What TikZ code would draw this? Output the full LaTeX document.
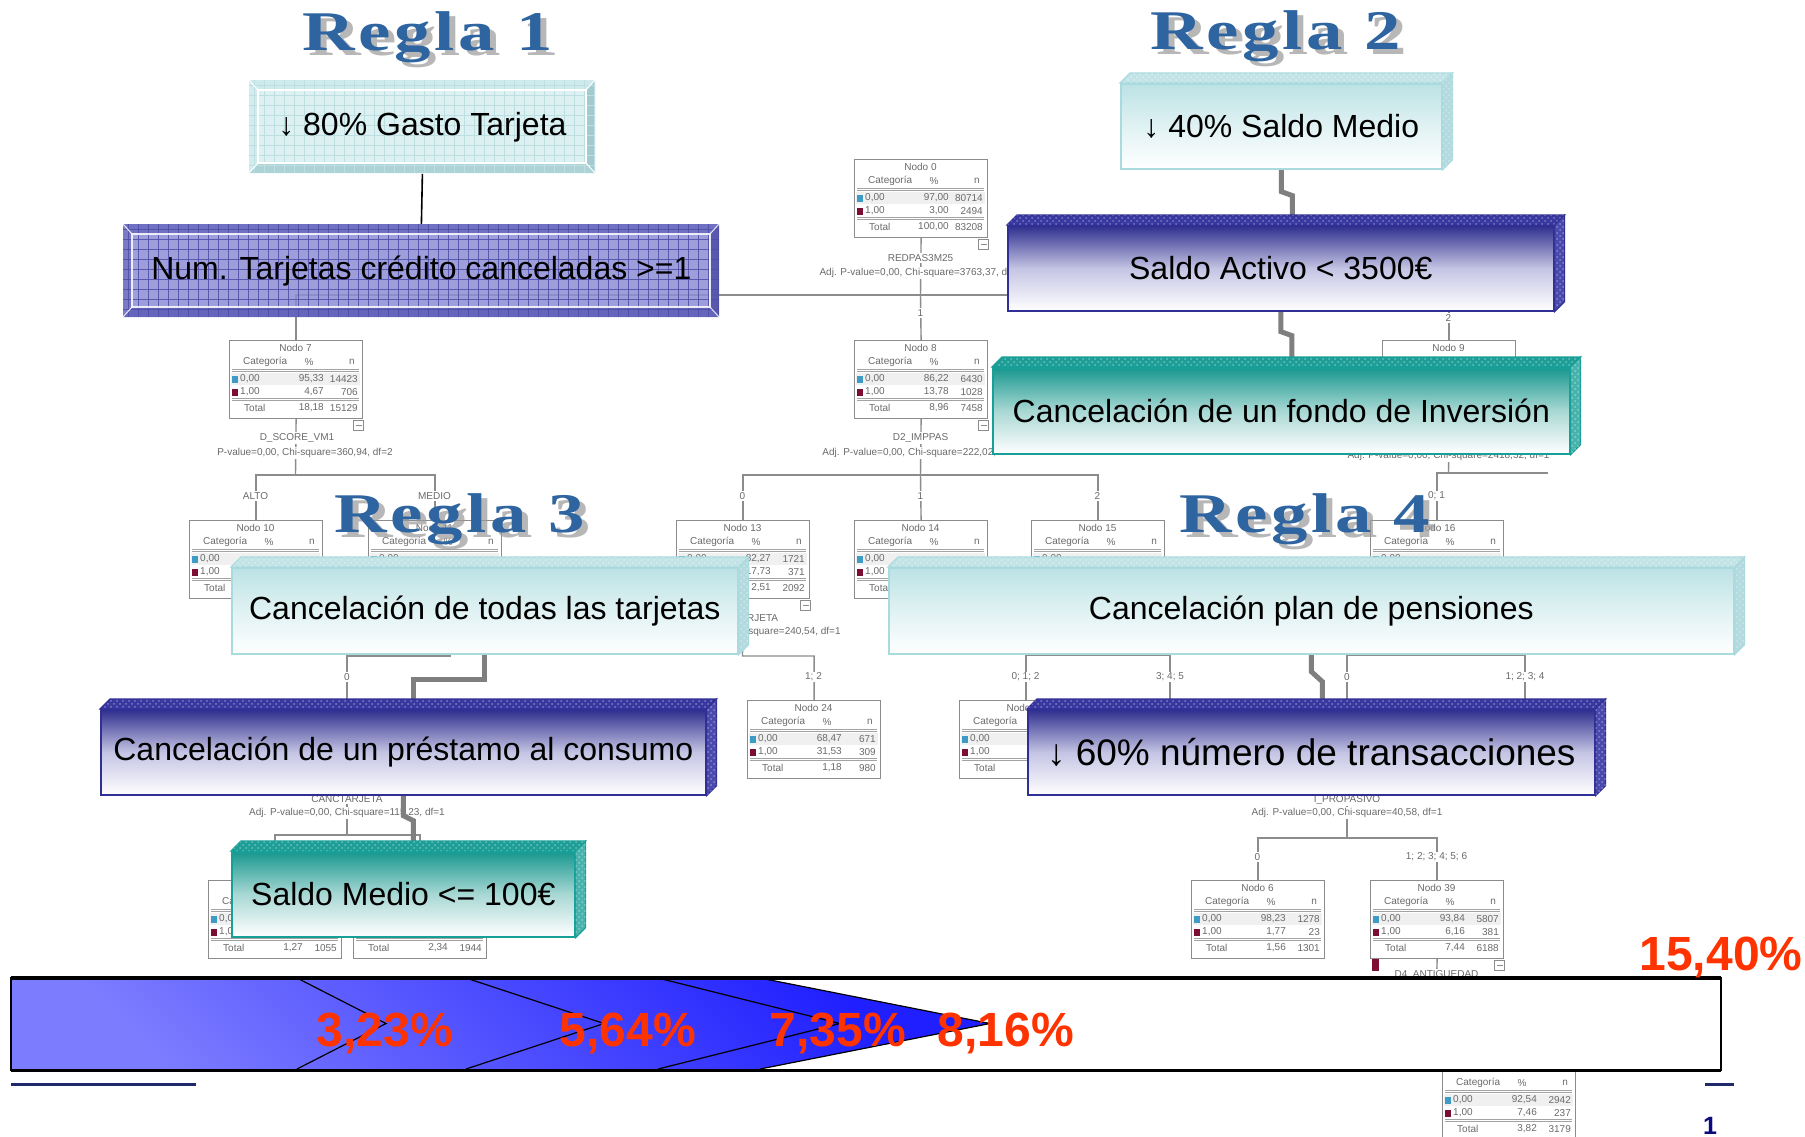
\documentclass[tikz,border=0pt]{standalone}
\usepackage{fontspec}
\setmainfont{Liberation Sans}
\newfontfamily\reglafont[LetterSpace=5]{Liberation Serif}
\usepackage{graphicx}
\usetikzlibrary{calc,patterns}
\pgfdeclarelayer{bg}
\pgfdeclarelayer{conn}
\pgfsetlayers{bg,conn,main}
\definecolor{treeLine}{HTML}{8C8C8C}
\definecolor{treeText}{HTML}{6A6A6A}
\definecolor{sq0}{HTML}{3E9CC4}
\definecolor{sq1}{HTML}{7D0E33}
\definecolor{cyTop}{HTML}{BCE2E5}
\definecolor{cyMid}{HTML}{E0F2F3}
\definecolor{cyBorder}{HTML}{A9DADE}
\definecolor{cyFace}{HTML}{C2E4E7}
\definecolor{cySide}{HTML}{B3DADE}
\definecolor{nvTop}{HTML}{2F2F8E}
\definecolor{nvMid}{HTML}{C4C4E4}
\definecolor{nvBorder}{HTML}{2F2F96}
\definecolor{nvFace}{HTML}{3838A0}
\definecolor{nvSide}{HTML}{4A4AAE}
\definecolor{tlTop}{HTML}{18988F}
\definecolor{tlMid}{HTML}{A8D8D4}
\definecolor{tlBorder}{HTML}{17A098}
\definecolor{tlFace}{HTML}{1E9E96}
\definecolor{tlSide}{HTML}{48B3AC}
\definecolor{b1In}{HTML}{DDF1F3}
\definecolor{b1Top}{HTML}{CFEAED}
\definecolor{b1Bot}{HTML}{AED3D7}
\definecolor{b1Left}{HTML}{D3ECEE}
\definecolor{b1Right}{HTML}{A3CBCF}
\definecolor{b1Grid}{HTML}{BEDFE2}
\definecolor{b2In}{HTML}{8E8ED4}
\definecolor{b2Top}{HTML}{6A6AC0}
\definecolor{b2Bot}{HTML}{5C5CB6}
\definecolor{b2Left}{HTML}{7474C4}
\definecolor{b2Right}{HTML}{4C4CA8}
\definecolor{b2Grid}{HTML}{4E4EA8}
\definecolor{reglaBlue}{HTML}{2E64A0}
\definecolor{pctRed}{HTML}{FF3300}
\definecolor{blueD}{HTML}{1F1FFF}
\definecolor{blueL}{HTML}{7C7CFF}
\definecolor{navyNum}{HTML}{0A0A80}
\definecolor{navyLine}{HTML}{1F2A6B}
\definecolor{connGray}{HTML}{7F7F7F}
\newcommand\boxfont{\fontsize{16}{19}\selectfont}
\newcommand\treefont{\fontsize{5}{6}\selectfont}
% frame of a tree table, with separators and the Total row
\newcommand\tframebody[4]{%
  \node[tframe] (#1) at (0,0) {};
  \fill[trowbg] (2,33) rectangle (131,45);
  \fill[tc0] (3,35.5) rectangle (9,42.5);
  \fill[tc1] (3,48.5) rectangle (9,55.5);
  \draw[tsep] (3,29) -- (130,29) (3,31.5) -- (130,31.5) (3,58) -- (130,58) (3,60.5) -- (130,60.5);
  \node[ttxt,anchor=west] (#1-tot) at (14,68) {Total};
  \node[ttxt,anchor=east] (#1-totp) at (96,68) {#3};
  \node[ttxt,anchor=east] (#1-totn) at (130,68) {#4};}
% tree table: name, x,y, title, p0, n0, p1, n1, pt, nt
\newcommand\tnode[9]{%
 \begin{scope}[shift={(#2)}]
  \tframebody{#1}{#2}{#8}{#9}
  \node[ttxt] (#1-t) at (66.5,8) {#3};
  \node[ttxt,anchor=west] (#1-h) at (13,22) {Categoría};
  \node[ttxt] (#1-hp) at (80,22) {\%};
  \node[ttxt,anchor=east] (#1-hn) at (127,22) {n};
  \node[ttxt,anchor=west] (#1-r0) at (10,39) {0,00};
  \node[ttxt,anchor=east] (#1-r0p) at (96,39) {#4};
  \node[ttxt,anchor=east] (#1-r0n) at (130,39) {#5};
  \node[ttxt,anchor=west] (#1-r1) at (10,52) {1,00};
  \node[ttxt,anchor=east] (#1-r1p) at (96,52) {#6};
  \node[ttxt,anchor=east] (#1-r1n) at (130,52) {#7};
 \end{scope}}
% tree table whose upper rows are hidden: name, x,y, pt, nt
\newcommand\tnodetotal[4]{%
 \begin{scope}[shift={(#2)}]
  \tframebody{#1}{#2}{#3}{#4}
 \end{scope}}
\newcommand\tminus[1]{\node[tminus] (#1-m) at ($(#1.south east)+(1,1)$) {};}
\newcommand\cubefaces[2]{%
  \path[fill=#2Face, draw=#2Border, line width=0.6pt] (#1.north west) -- ++(10,-10) -- ($(#1.north east)+(10,-10)$) -- (#1.north east) -- cycle;
  \path[pattern=crosshatch dots, pattern color=white, fill opacity=0.35] (#1.north west) -- ++(10,-10) -- ($(#1.north east)+(10,-10)$) -- (#1.north east) -- cycle;
  \path[fill=#2Side, draw=#2Border, line width=0.6pt] (#1.north east) -- ++(10,-10) -- ($(#1.south east)+(10,-10)$) -- (#1.south east) -- cycle;
  \path[pattern=crosshatch dots, pattern color=white, fill opacity=0.35] (#1.north east) -- ++(10,-10) -- ($(#1.south east)+(10,-10)$) -- (#1.south east) -- cycle;}
% bevel box: x0,y0,x1,y1,prefix,opacity
\newcommand\bevelbox[6]{%
 \begin{scope}[fill opacity=#6, draw opacity=#6]
  \fill[fill=#5In] (#1,#2) rectangle (#3,#4);
  \fill[fill=#5Top] (#1,#2) -- (#3,#2) -- ({#3-9},{#2+10}) -- ({#1+9},{#2+10}) -- cycle;
  \fill[fill=#5Bot] (#1,#4) -- (#3,#4) -- ({#3-9},{#4-10}) -- ({#1+9},{#4-10}) -- cycle;
  \fill[fill=#5Left] (#1,#2) -- ({#1+9},{#2+10}) -- ({#1+9},{#4-10}) -- (#1,#4) -- cycle;
  \fill[fill=#5Right] (#3,#2) -- ({#3-9},{#2+10}) -- ({#3-9},{#4-10}) -- (#3,#4) -- cycle;
  \begin{scope}
   \clip (#1,#2) rectangle (#3,#4);
   \foreach \gi in {0,...,60} \draw[#5Grid, line width=0.35pt] ({#1+5+10*\gi},#2) -- ({#1+5+10*\gi},#4);
   \foreach \gj in {0,...,10} \draw[#5Grid, line width=0.35pt] (#1,{#2+5+10*\gj}) -- (#3,{#2+5+10*\gj});
  \end{scope}
  \draw[white, line width=0.9pt] ({#1+9},{#2+10}) rectangle ({#3-9},{#4-10});
  \draw[white, line width=0.5pt] (#1,#2) -- ({#1+9},{#2+10}) (#3,#2) -- ({#3-9},{#2+10}) (#1,#4) -- ({#1+9},{#4-10}) (#3,#4) -- ({#3-9},{#4-10});
 \end{scope}}
\newcommand\regla[3]{%
  \node[reglashadow] (#1s) at ($(#2)+(6,5)$) {\scalebox{1.3}[1]{#3}};
  \node[reglatext] (#1) at (#2) {\scalebox{1.3}[1]{#3}};}
\begin{document}
\begin{tikzpicture}[x=0.5pt,y=-0.5pt,
  ttxt/.style={font=\treefont, text=treeText, inner sep=0.4pt},
  tframe/.style={draw=treeLine, fill=white, line width=0.6pt, minimum width=66.5pt, minimum height=39pt, inner sep=0pt, anchor=north west},
  tsep/.style={draw=treeLine!80, line width=0.4pt},
  trowbg/.style={fill=black!6},
  tc0/.style={fill=sq0},
  tc1/.style={fill=sq1},
  tminus/.style={draw=treeLine, fill=white, line width=0.4pt, minimum size=5pt, inner sep=0pt, anchor=north east,
    path picture={\draw[treeLine, line width=0.4pt] ([xshift=1pt]path picture bounding box.west) -- ([xshift=-1pt]path picture bounding box.east);}},
  tedge/.style={draw=treeLine, line width=0.7pt},
  tlab/.style={font=\treefont, text=treeText, fill=white, inner sep=0.6pt},
  cubefront/.style={anchor=north west, inner sep=0pt, draw=#1Border, line width=0.8pt, top color=#1Top, bottom color=white, middle color=#1Mid, font=\boxfont, text=black},
  bevtext/.style={anchor=north west, inner sep=0pt, font=\boxfont, text=black},
  thickconn/.style={draw=connGray, line width=2.5pt},
  blackconn/.style={draw=black, line width=0.8pt},
  reglatext/.style={font={\reglafont\bfseries\fontsize{28}{32}\selectfont}, text=reglaBlue, anchor=base, inner sep=0pt},
  reglashadow/.style={font={\reglafont\bfseries\fontsize{28}{32}\selectfont}, text=black!40, opacity=0.7, anchor=base, inner sep=0pt},
  pctxt/.style={font={\bfseries\fontsize{24}{28}\selectfont}, text=pctRed, inner sep=0pt},
  chev/.style={draw=black, line width=0.6pt},
  navyline/.style={draw=navyLine, line width=1.5pt}]
\useasboundingbox (0,0) rectangle (1805,1136);
\begin{pgfonlayer}{bg}
\fill[white] (0,0) rectangle (1805,1136);
% ---------- tree tables ----------
\tnode{n0}{854,159}{Nodo 0}{97,00}{80714}{3,00}{2494}{100,00}{83208}
\tnode{n7}{229,340}{Nodo 7}{95,33}{14423}{4,67}{706}{18,18}{15129}
\tnode{n8}{854,340}{Nodo 8}{86,22}{6430}{13,78}{1028}{8,96}{7458}
\tnode{n9}{1382,340}{Nodo 9}{}{}{}{}{}{}
\tnode{n10}{189,520}{Nodo 10}{}{}{}{}{}{}
\tnode{n11}{368,520}{Nodo 11}{}{}{}{}{}{}
\tnode{n13}{676,520}{Nodo 13}{82,27}{1721}{17,73}{371}{2,51}{2092}
\tnode{n14}{854,520}{Nodo 14}{}{}{}{}{}{}
\tnode{n15}{1031,520}{Nodo 15}{}{}{}{}{}{}
\tnode{n16}{1370,520}{Nodo 16}{}{}{}{}{}{}
\tnode{n24}{747,700}{Nodo 24}{68,47}{671}{31,53}{309}{1,18}{980}
\tnode{n25}{959,700}{Nodo 25}{}{}{}{}{}{}
\tnode{nL}{208,880}{}{}{}{}{}{1,27}{1055}
\tnodetotal{nR}{353,880}{2,34}{1944}
\tnode{n6}{1191,880}{Nodo 6}{98,23}{1278}{1,77}{23}{1,56}{1301}
\tnode{n39}{1370,880}{Nodo 39}{93,84}{5807}{6,16}{381}{7,44}{6188}
\tnode{nB}{1442,1061}{}{92,54}{2942}{7,46}{237}{3,82}{3179}
\tminus{n0}\tminus{n7}\tminus{n8}\tminus{n13}\tminus{n39}
\fill[tc1] (1372,959) rectangle (1379,971);
% ---------- tree edges ----------
\coordinate (s0) at (920.5,295);
\draw[tedge] (n0.south) -- (s0);
\draw[tedge] (n7.north) |- (s0) -| (n9.north);
\draw[tedge] (s0) -- (n8.north);
\coordinate (s7) at (295.5,475);
\draw[tedge] (n7.south) -- (s7);
\draw[tedge] (n10.north) |- (s7) -| (n11.north);
\coordinate (s8) at (920.5,475);
\draw[tedge] (n8.south) -- (s8);
\draw[tedge] (n13.north) |- (s8) -| (n15.north);
\draw[tedge] (s8) -- (n14.north);
\coordinate (s9) at (1448.5,473);
\coordinate (e9) at (1548,473);
\draw[tedge] (n9.south) -- (s9);
\draw[tedge] (n16.north) |- (s9) -- (e9);
\coordinate (s13) at (742.5,656);
\draw[tedge] (n13.south) -- (s13) -| (n24.north);
\coordinate (s11) at (434.5,656);
\coordinate (e11) at (451,656);
\coordinate (c11) at (347,740);
\draw[tedge] (n11.south) -- (s11);
\draw[tedge] (c11) |- (s11) -- (e11);
\coordinate (sc) at (347,835);
\draw[tedge] (c11) -- (sc);
\draw[tedge] (nL.north) |- (sc) -| (nR.north);
\coordinate (s15) at (1097.5,655);
\coordinate (c15) at (1170,740);
\draw[tedge] (n15.south) -- (s15);
\draw[tedge] (n25.north) |- (s15) -| (c15);
\coordinate (s16) at (1436.5,655);
\coordinate (c16a) at (1347,760);
\coordinate (c16b) at (1525,740);
\draw[tedge] (n16.south) -- (s16);
\draw[tedge] (c16a) |- (s16) -| (c16b);
\coordinate (si) at (1347,838);
\draw[tedge] (c16a) -- (si);
\draw[tedge] (n6.north) |- (si) -| (n39.north);
\coordinate (e39) at (1436.5,990);
\draw[tedge] (n39.south) -- (e39);
% ---------- tree labels ----------
\node[tlab] (l0a) at (920.5,258) {REDPAS3M25};
\node[tlab] (l0b) at (920.5,273) {Adj. P-value=0,00, Chi-square=3763,37, df=2};
\node[tlab] (l7a) at (297,438) {D\_SCORE\_VM1};
\node[tlab] (l7b) at (305,453) {P-value=0,00, Chi-square=360,94, df=2};
\node[tlab] (l8a) at (920.5,438) {D2\_IMPPAS};
\node[tlab] (l8b) at (920.5,453) {Adj. P-value=0,00, Chi-square=222,02, df=2};
\node[tlab] (l9b) at (1448.5,456) {Adj. P-value=0,00, Chi-square=2418,32, df=1};
\node[tlab] (l13a) at (742.5,618) {CANCTARJETA};
\node[tlab] (l13b) at (742.5,632) {Adj. P-value=0,00, Chi-square=240,54, df=1};
\node[tlab] (lca) at (347,799) {CANCTARJETA};
\node[tlab] (lcb) at (347,813) {Adj. P-value=0,00, Chi-square=115,23, df=1};
\node[tlab] (lia) at (1347,800) {I\_PROPASIVO};
\node[tlab] (lib) at (1347,813) {Adj. P-value=0,00, Chi-square=40,58, df=1};
\node[tlab] (lda) at (1436.5,975) {D4\_ANTIGUEDAD};
\node[tlab] (e1) at (920.5,313) {1};
\node[tlab] (e2) at (1448.5,318) {2};
\node[tlab] (e3) at (255.5,496) {ALTO};
\node[tlab] (e4) at (434.5,496) {MEDIO};
\node[tlab] (e5) at (742.5,496) {0};
\node[tlab] (e6) at (920.5,496) {1};
\node[tlab] (e7) at (1097.5,496) {2};
\node[tlab] (e8) at (1436.5,496) {0; 1};
\node[tlab] (e9l) at (813.5,677) {1; 2};
\node[tlab] (e10) at (347,677) {0};
\node[tlab] (e11l) at (1025.5,677) {0; 1; 2};
\node[tlab] (e12) at (1170,677) {3; 4; 5};
\node[tlab] (e13) at (1347,677) {0};
\node[tlab] (e14) at (1525,677) {1; 2; 3; 4};
\node[tlab] (e15) at (1257.5,857) {0};
\node[tlab] (e16) at (1436.5,857) {1; 2; 3; 4; 5; 6};
\end{pgfonlayer}
% ---------- bevel boxes (Regla 1) ----------
\bevelbox{249}{80}{595}{173}{b1}{1}
\node[bevtext, minimum width=173pt, minimum height=46.5pt] (b1) at (249,80) {↓ 80\% Gasto Tarjeta};
\bevelbox{123}{224}{719}{317}{b2}{0.85}
\node[bevtext, minimum width=298pt, minimum height=46.5pt] (b2) at (123,224) {Num. Tarjetas crédito canceladas >=1};
% ---------- cuboid boxes ----------
\node[cubefront=cy, minimum width=160.5pt, minimum height=42.5pt] (b3) at (1120,83) {↓ 40\% Saldo Medio};
\cubefaces{b3}{cy}
\node[cubefront=nv, minimum width=273pt, minimum height=42.5pt] (b4) at (1007,225) {Saldo Activo < 3500€};
\cubefaces{b4}{nv}
\node[cubefront=tl, minimum width=288.5pt, minimum height=43pt] (b5) at (992,367) {Cancelación de un fondo de Inversión};
\cubefaces{b5}{tl}
\node[cubefront=cy, minimum width=253pt, minimum height=43pt] (b6) at (231,567) {Cancelación de todas las tarjetas};
\cubefaces{b6}{cy}
\node[cubefront=nv, minimum width=302.5pt, minimum height=42.5pt] (b7) at (100,709) {Cancelación de un préstamo al consumo};
\cubefaces{b7}{nv}
\node[cubefront=tl, minimum width=171.5pt, minimum height=42.5pt] (b8) at (231,851) {Saldo Medio <= 100€};
\cubefaces{b8}{tl}
\node[cubefront=cy, minimum width=422.5pt, minimum height=43pt] (b9) at (888,567) {Cancelación plan de pensiones};
\cubefaces{b9}{cy}
\node[cubefront=nv, minimum width=283.5pt, minimum height=42.5pt, font=\fontsize{18.5}{22}\selectfont] (b10) at (1027,709) {↓ 60\% número de transacciones};
\cubefaces{b10}{nv}
% ---------- connectors ----------
\begin{pgfonlayer}{conn}
\draw[blackconn] (b1.south) -- (b2.north);
\draw[thickconn] (b3.south) -- ++(0,22) -- ++(11,4) coordinate (k1) -- (k1 |- b4.north);
\draw[thickconn] (b4.south) -- ++(0,20) -- ++(11,4) coordinate (k2) -- (k2 |- b5.north);
\draw[thickconn] (b6.south) -- ++(0,25) -| ($(b7.north)+(10,0)$);
\draw[thickconn] (b7.south) -- ++(0,20) -- ++(10,5) coordinate (k3) -- (k3 |- b8.north);
\draw[thickconn] (b9.south) -- ++(0,17) -- ++(11,10) coordinate (k4) -- (k4 |- b10.north);
\end{pgfonlayer}
% ---------- titles ----------
\regla{r1}{428,50}{Regla 1}
\regla{r2}{1276,49}{Regla 2}
\regla{r3}{460,532}{Regla 3}
\regla{r4}{1305,532}{Regla 4}
% ---------- bottom bar ----------
\node[inner sep=0pt, minimum width=854.5pt, minimum height=45.5pt, anchor=north west, draw=black, line width=0.6pt, fill=white] (bar) at (11,978) {};
\shade[top color=blueD, bottom color=blueL, shading angle=-45] (bar.north west) -- (760,978) -- (990,1023.5) -- (760,1069) -- (bar.south west) -- cycle;
\draw[chev] (297,978) -- (386,1023.5) -- (297,1069);
\draw[chev] (466,978) -- (604,1023.5) -- (466,1069);
\draw[chev] (658,978) -- (840,1023.5) -- (658,1069);
\draw[chev] (760,978) -- (990,1023.5) -- (760,1069);
\draw[line width=0.6pt] (bar.north west) rectangle (bar.south east);
\draw[line width=1.6pt] (bar.north west) -- (bar.north east);
\draw[line width=1.6pt] (bar.south west) -- (bar.south east);
\node[pctxt] (p1) at (385,1033) {3,23\%};
\node[pctxt] (p2) at (628,1033) {5,64\%};
\node[pctxt] (p3) at (838,1033) {7,35\%};
\node[pctxt] (p4) at (1006,1033) {8,16\%};
\node[pctxt] (p5) at (1721,957) {15,40\%};
\draw[navyline] (11,1084) -- (196,1084);
\draw[navyline] (1705,1084) -- (1734,1084);
\node[font={\bfseries\fontsize{12.5}{14}\selectfont}, text=navyNum, inner sep=0pt] (pnum) at (1710,1126) {1};
\end{tikzpicture}
\end{document}
